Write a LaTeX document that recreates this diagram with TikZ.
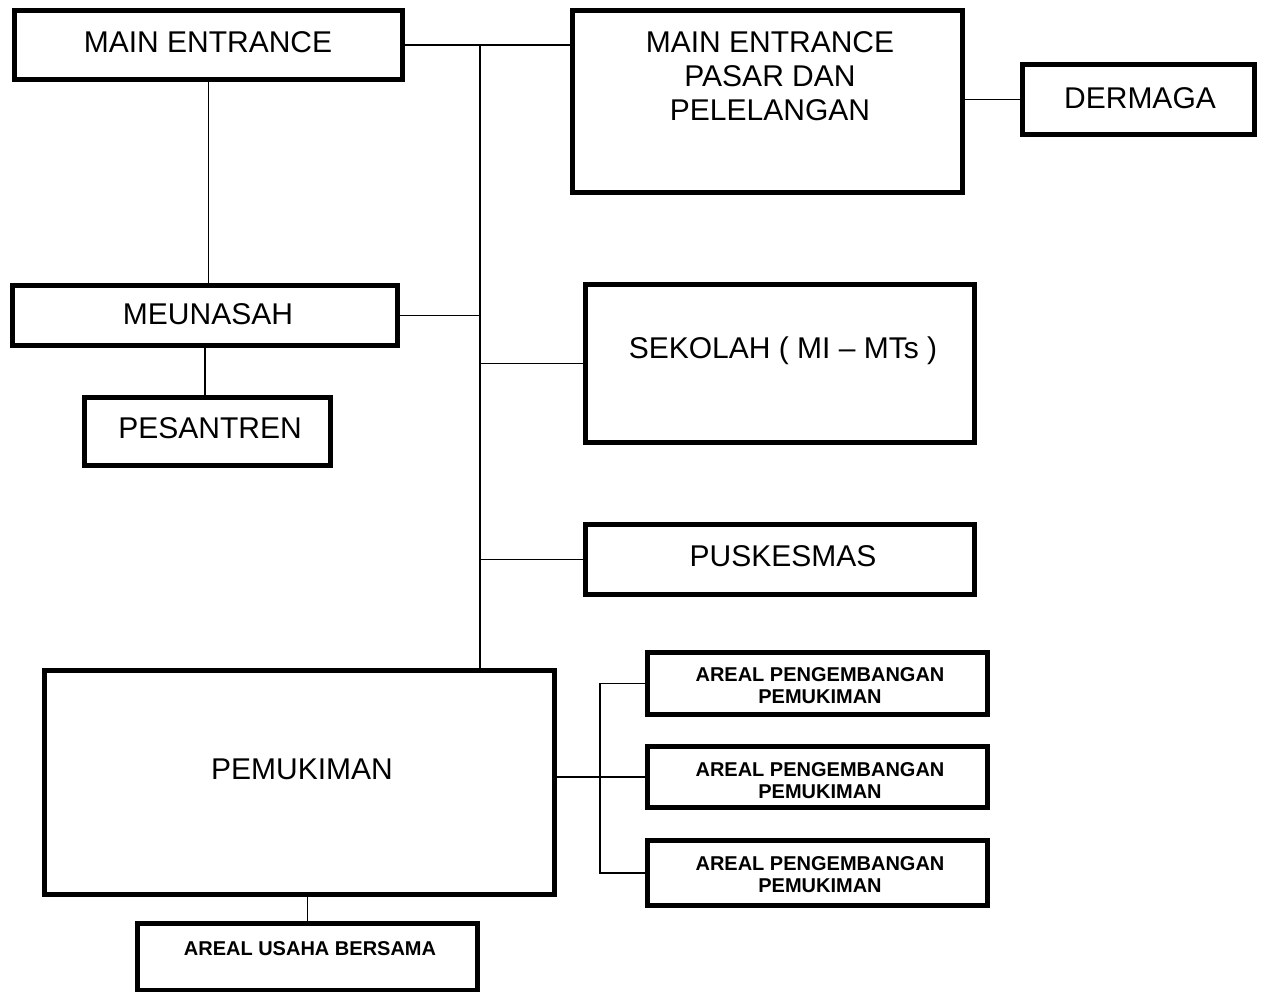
\documentclass[tikz,border=0pt]{standalone}
\usepackage{fontspec}
\setmainfont{Liberation Sans}
\begin{document}
\begin{tikzpicture}[x=1pt,y=-1pt,
  box/.style={draw, line width=5pt, inner sep=0pt, anchor=center},
  big/.style={font=\fontsize{30}{34}\selectfont, align=center, inner sep=0pt},
  small/.style={font=\bfseries\fontsize{20}{22}\selectfont, align=center, inner sep=0pt},
  conn/.style={line width=1.4pt}]
\fill[white] (0,0) rectangle (1265,992);
\useasboundingbox (0,0) rectangle (1265,992);
% boxes
\node[box, minimum width=388pt, minimum height=69pt] (me) at (208.5,45) {};
\node[box, minimum width=390pt, minimum height=182pt] (pasar) at (767.5,101.5) {};
\node[box, minimum width=232pt, minimum height=70pt] (dermaga) at (1138.5,99.5) {};
\node[box, minimum width=385pt, minimum height=60pt] (meunasah) at (205,315.5) {};
\node[box, minimum width=246pt, minimum height=68pt] (pesantren) at (207.5,431.5) {};
\node[box, minimum width=389pt, minimum height=158pt] (sekolah) at (780,363.5) {};
\node[box, minimum width=389pt, minimum height=70pt] (puskesmas) at (780,559.5) {};
\node[box, minimum width=510pt, minimum height=224pt] (pem) at (299.5,782.5) {};
\node[box, minimum width=340pt, minimum height=67pt] (usaha) at (307.5,957) {};
\node[box, minimum width=340pt, minimum height=62pt] (areal1) at (817.5,683.5) {};
\node[box, minimum width=340pt, minimum height=61pt] (areal2) at (817.5,777) {};
\node[box, minimum width=340pt, minimum height=65pt] (areal3) at (817.5,873) {};
% texts
\node[big] (meT) at (208,42) {MAIN ENTRANCE};
\node[big] (pasarT) at (770,76) {MAIN ENTRANCE\\PASAR DAN\\PELELANGAN};
\node[big] (dermagaT) at (1140,98) {DERMAGA};
\node[big] (meunasahT) at (208,314) {MEUNASAH};
\node[big] (pesantrenT) at (210,428) {PESANTREN};
\node[big] (sekolahT) at (783,351) {SEKOLAH ( MI – MTs )};
\node[big] (puskesmasT) at (783,556) {PUSKESMAS};
\node[big] (pemT) at (302,769) {PEMUKIMAN};
\node[small] (usahaT) at (310,949) {AREAL USAHA BERSAMA};
\node[small] (arealT1) at (820,686) {AREAL PENGEMBANGAN\\PEMUKIMAN};
\node[small] (arealT2) at (820,781) {AREAL PENGEMBANGAN\\PEMUKIMAN};
\node[small] (arealT3) at (820,875) {AREAL PENGEMBANGAN\\PEMUKIMAN};
% connectors
\coordinate (tTop) at (480,45);
\coordinate (br) at (600,700);
\draw[conn] (me.east) -- (me.east -| pasar.west);
\draw[conn] (tTop) -- (tTop |- pem.north);
\draw[conn] (dermaga.west) -- (dermaga.west -| pasar.east);
\draw[conn] (me.south) -- (me.south |- meunasah.north);
\draw[conn] (meunasah.east) -- (meunasah.east -| tTop);
\draw[conn] (meunasah.south) -- (meunasah.south |- pesantren.north);
\draw[conn] (sekolah.west) -- (sekolah.west -| tTop);
\draw[conn] (puskesmas.west) -- (puskesmas.west -| tTop);
\draw[conn] (areal2.west) -- (areal2.west -| pem.east);
\draw[conn] (areal1.west) -- (areal1.west -| br) -- (areal3.west -| br) -- (areal3.west);
\draw[conn] (usaha.north) -- (usaha.north |- pem.south);
\end{tikzpicture}
\end{document}
